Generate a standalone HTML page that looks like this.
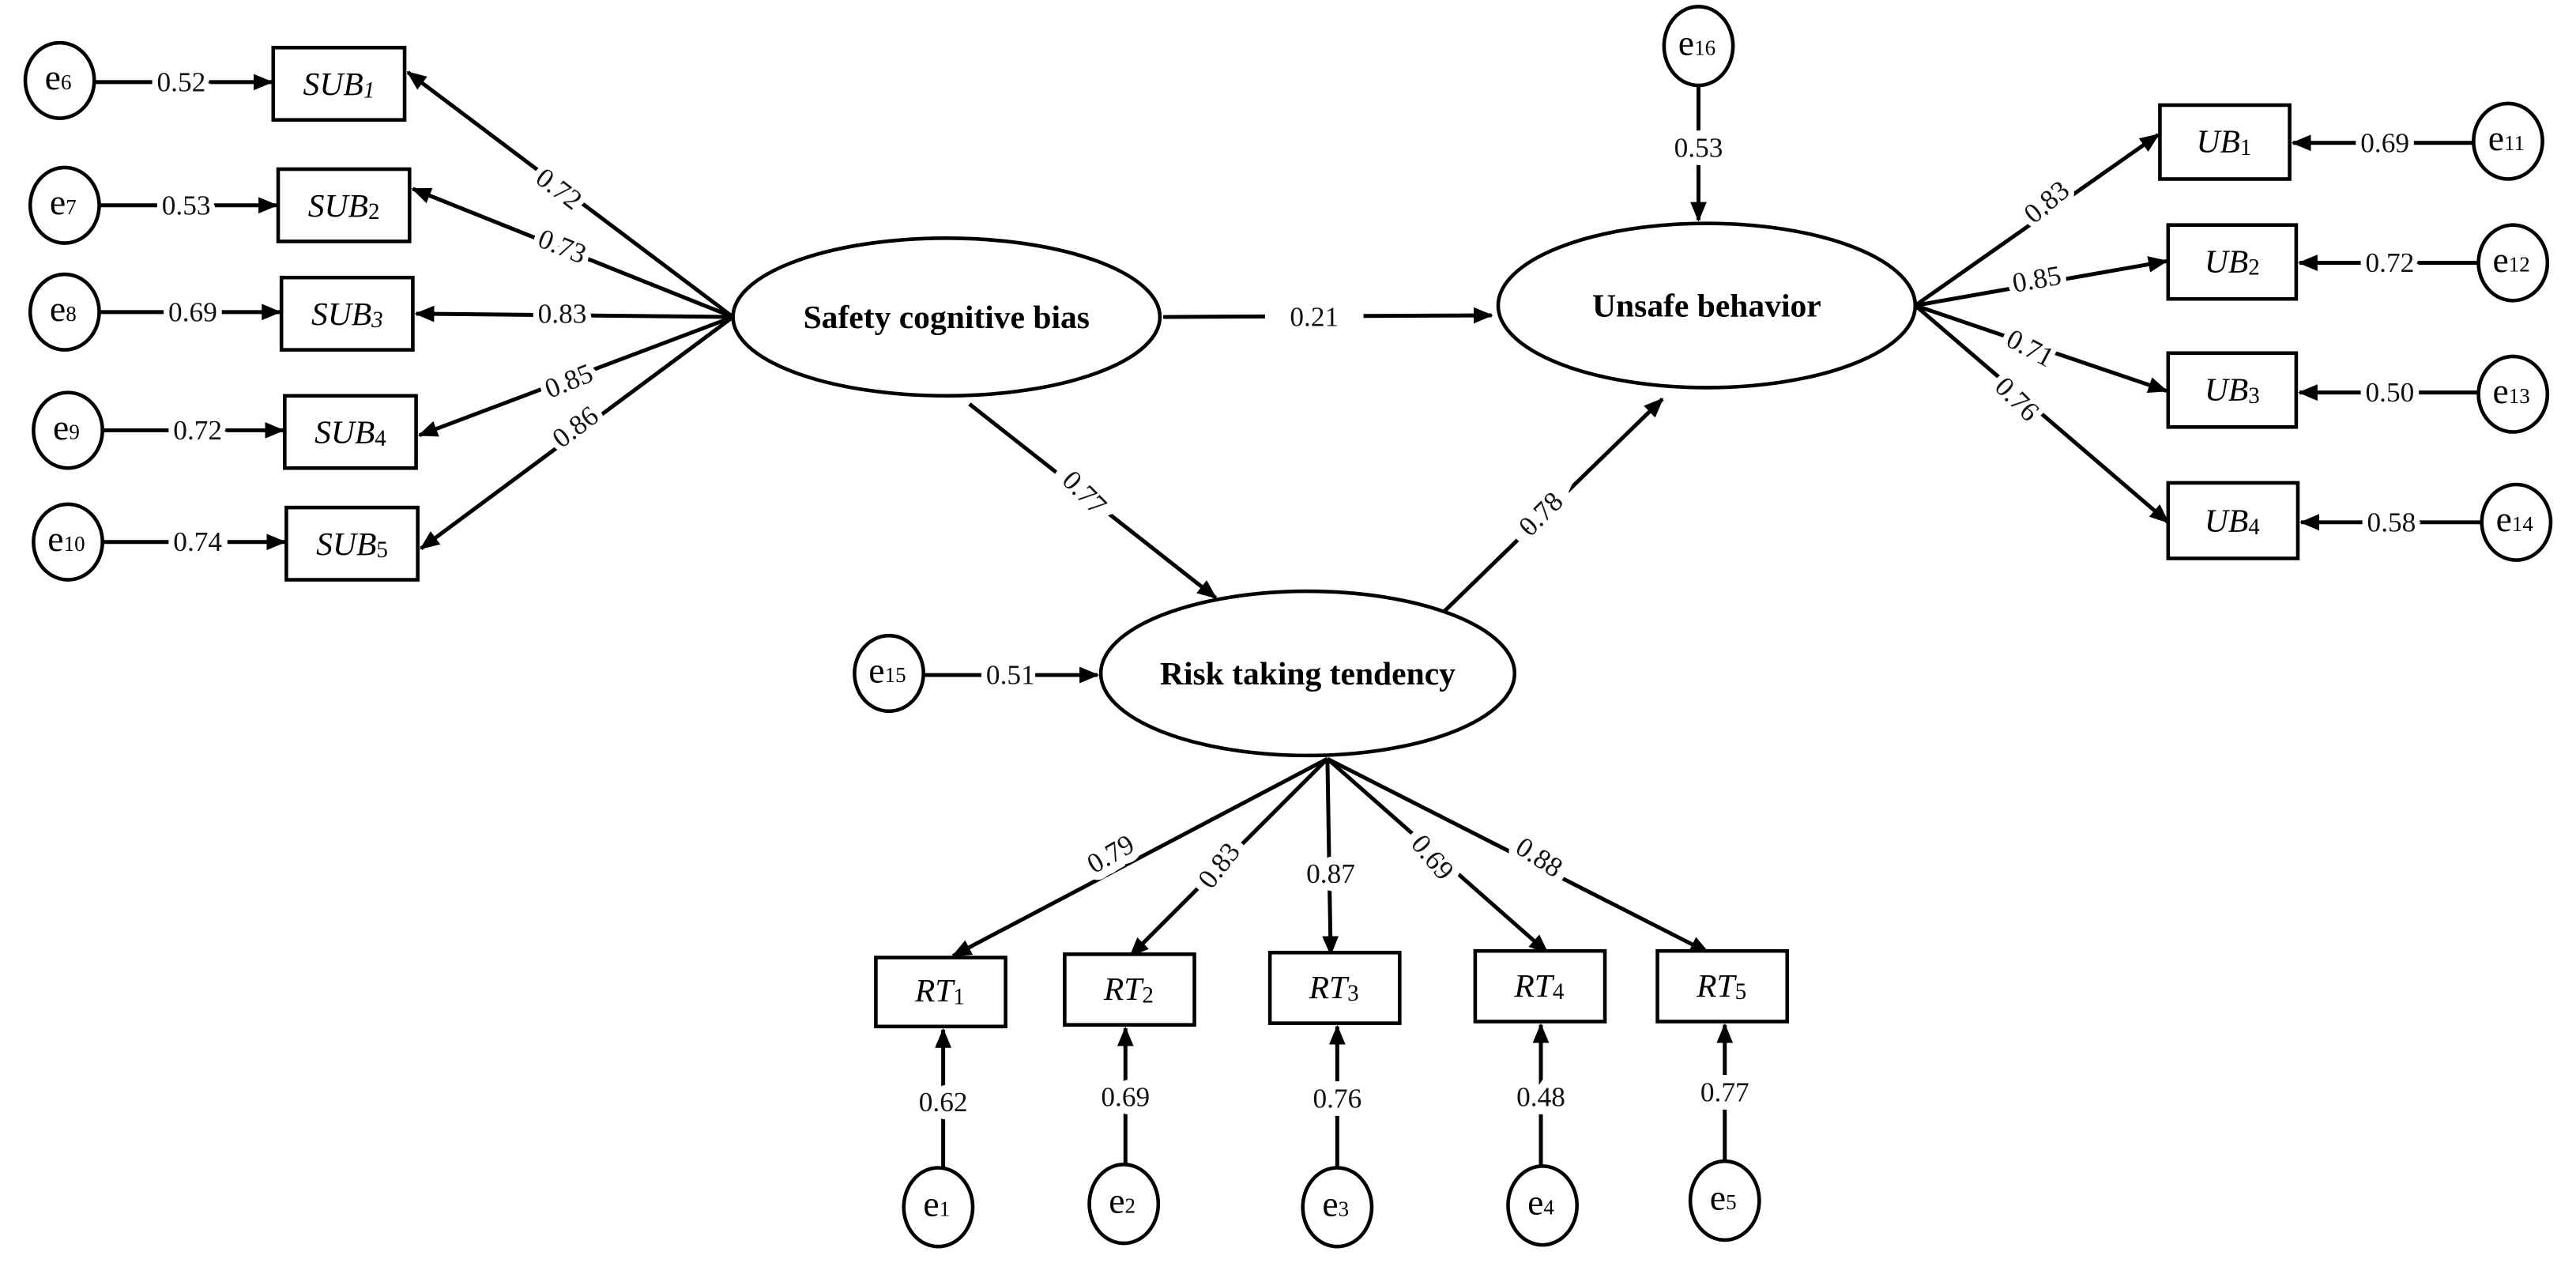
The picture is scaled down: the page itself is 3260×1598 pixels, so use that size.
<!DOCTYPE html>
<html><head><meta charset="utf-8"><style>html,body{margin:0;padding:0;background:#fff}svg{display:block}</style></head>
<body>
<svg width="3260" height="1598" viewBox="0 0 1568 769" xmlns="http://www.w3.org/2000/svg" font-family="'Liberation Serif', serif">
<defs>
<marker id="a" markerWidth="12" markerHeight="10" refX="11" refY="5" orient="auto" markerUnits="userSpaceOnUse" viewBox="0 0 12 10">
<path d="M0,0 L12,5 L0,10 Z" fill="#000"/></marker>
<style>
.l{stroke:#000;stroke-width:2.4;fill:none}
.s{stroke:#000;stroke-width:2.2;fill:#fff}
.t{font-size:17px;fill:#111;text-anchor:middle;dominant-baseline:central;paint-order:stroke;stroke:#fff;stroke-width:7px}
.bx{font-size:20px;font-style:italic;text-anchor:middle;dominant-baseline:central}
.e{font-size:22px;text-anchor:middle;dominant-baseline:central}
.bd{font-size:20px;font-weight:bold;text-anchor:middle;dominant-baseline:central}
</style>
</defs>
<rect width="1568" height="769" fill="#fff"/>

<g>
<line class="l" x1="58" y1="50" x2="165" y2="50" marker-end="url(#a)"/><text class="t" x="110" y="50">0.52</text>
<line class="l" x1="61" y1="125" x2="168" y2="125" marker-end="url(#a)"/><text class="t" x="113" y="125">0.53</text>
<line class="l" x1="61" y1="190" x2="170" y2="190" marker-end="url(#a)"/><text class="t" x="117" y="190">0.69</text>
<line class="l" x1="63" y1="262" x2="172" y2="262" marker-end="url(#a)"/><text class="t" x="120" y="262">0.72</text>
<line class="l" x1="63" y1="330" x2="173" y2="330" marker-end="url(#a)"/><text class="t" x="120" y="330">0.74</text>
</g>
<ellipse class="s" cx="36" cy="49" rx="21" ry="23"/><text class="e" x="35" y="47">e<tspan font-size="13" dy="3">6</tspan></text>
<ellipse class="s" cx="39" cy="125" rx="21" ry="23"/><text class="e" x="38" y="123">e<tspan font-size="13" dy="3">7</tspan></text>
<ellipse class="s" cx="39" cy="190" rx="21" ry="23"/><text class="e" x="38" y="188">e<tspan font-size="13" dy="3">8</tspan></text>
<ellipse class="s" cx="41" cy="262" rx="21" ry="23"/><text class="e" x="40" y="260">e<tspan font-size="13" dy="3">9</tspan></text>
<ellipse class="s" cx="41" cy="330" rx="21" ry="23"/><text class="e" x="40" y="328">e<tspan font-size="13" dy="3">10</tspan></text>

<rect class="s" x="166" y="29" width="80" height="44"/><text class="bx" x="206" y="51">SUB<tspan font-size="14" dy="4">1</tspan></text>
<rect class="s" x="169" y="103" width="80" height="44"/><text class="bx" x="209" y="125">SUB<tspan font-size="14" dy="4" font-style="normal">2</tspan></text>
<rect class="s" x="171" y="169" width="80" height="44"/><text class="bx" x="211" y="191">SUB<tspan font-size="14" dy="4">3</tspan></text>
<rect class="s" x="173" y="241" width="80" height="44"/><text class="bx" x="213" y="263">SUB<tspan font-size="14" dy="4" font-style="normal">4</tspan></text>
<rect class="s" x="174" y="309" width="80" height="44"/><text class="bx" x="214" y="331">SUB<tspan font-size="14" dy="4" font-style="normal">5</tspan></text>

<line class="l" x1="446" y1="193" x2="248" y2="44" marker-end="url(#a)"/><text class="t" x="340" y="115" transform="rotate(37 340 115)">0.72</text>
<line class="l" x1="446" y1="193" x2="251" y2="115" marker-end="url(#a)"/><text class="t" x="342" y="150" transform="rotate(22 342 150)">0.73</text>
<line class="l" x1="446" y1="193" x2="253" y2="191" marker-end="url(#a)"/><text class="t" x="342" y="191">0.83</text>
<line class="l" x1="446" y1="193" x2="255" y2="265" marker-end="url(#a)"/><text class="t" x="346" y="232" transform="rotate(-22 346 232)">0.85</text>
<line class="l" x1="446" y1="193" x2="256" y2="334" marker-end="url(#a)"/><text class="t" x="350" y="260" transform="rotate(-37 350 260)">0.86</text>

<line class="l" x1="708" y1="193" x2="908" y2="192" marker-end="url(#a)"/><rect x="770" y="180" width="60" height="26" fill="#fff"/><text class="t" x="800" y="193">0.21</text>
<line class="l" x1="590" y1="246" x2="740" y2="364" marker-end="url(#a)"/><text class="t" x="660" y="300" transform="rotate(45 660 300)" style="stroke-width:14px">0.77</text>
<line class="l" x1="865" y1="386" x2="1012" y2="243" marker-end="url(#a)"/><text class="t" x="938" y="313" transform="rotate(-45 938 313)" style="stroke-width:14px">0.78</text>

<ellipse class="s" cx="576" cy="193" rx="130" ry="48"/><text class="bd" x="576" y="193">Safety cognitive bias</text>
<ellipse class="s" cx="1039" cy="186" rx="127" ry="50"/><text class="bd" x="1039" y="186">Unsafe behavior</text>
<ellipse class="s" cx="796" cy="410" rx="126" ry="50"/><text class="bd" x="796" y="410">Risk taking tendency</text>

<line class="l" x1="1034" y1="52" x2="1034" y2="134" marker-end="url(#a)"/><text class="t" x="1034" y="90" style="stroke-width:10px">0.53</text>
<ellipse class="s" cx="1034" cy="28" rx="21" ry="24"/><text class="e" x="1033" y="26">e<tspan font-size="13" dy="3">16</tspan></text>

<line class="l" x1="562" y1="411" x2="668" y2="411" marker-end="url(#a)"/><text class="t" x="615" y="411">0.51</text>
<ellipse class="s" cx="541" cy="410" rx="21" ry="23"/><text class="e" x="540" y="408">e<tspan font-size="13" dy="3">15</tspan></text>

<line class="l" x1="1166" y1="186" x2="1314" y2="82" marker-end="url(#a)"/><text class="t" x="1246" y="123" transform="rotate(-40 1246 123)">0.83</text>
<line class="l" x1="1166" y1="186" x2="1319" y2="159" marker-end="url(#a)"/><text class="t" x="1240" y="170" transform="rotate(-10 1240 170)">0.85</text>
<line class="l" x1="1166" y1="186" x2="1319" y2="238" marker-end="url(#a)"/><text class="t" x="1236" y="212" transform="rotate(28 1236 212)">0.71</text>
<line class="l" x1="1166" y1="186" x2="1320" y2="318" marker-end="url(#a)"/><text class="t" x="1228" y="243" transform="rotate(45 1228 243)">0.76</text>

<rect class="s" x="1315" y="64" width="79" height="45"/><text class="bx" x="1354" y="86">UB<tspan font-size="14" dy="4" font-style="normal">1</tspan></text>
<rect class="s" x="1320" y="137" width="78" height="45"/><text class="bx" x="1359" y="159">UB<tspan font-size="14" dy="4" font-style="normal">2</tspan></text>
<rect class="s" x="1320" y="215" width="78" height="45"/><text class="bx" x="1359" y="237">UB<tspan font-size="14" dy="4" font-style="normal">3</tspan></text>
<rect class="s" x="1320" y="294" width="79" height="46"/><text class="bx" x="1359" y="317">UB<tspan font-size="14" dy="4" font-style="normal">4</tspan></text>

<line class="l" x1="1506" y1="87" x2="1396" y2="87" marker-end="url(#a)"/><text class="t" x="1452" y="87">0.69</text>
<line class="l" x1="1509" y1="160" x2="1400" y2="160" marker-end="url(#a)"/><text class="t" x="1455" y="160">0.72</text>
<line class="l" x1="1509" y1="239" x2="1400" y2="239" marker-end="url(#a)"/><text class="t" x="1455" y="239">0.50</text>
<line class="l" x1="1511" y1="318" x2="1401" y2="318" marker-end="url(#a)"/><text class="t" x="1456" y="318">0.58</text>
<ellipse class="s" cx="1527" cy="86" rx="21" ry="23"/><text class="e" x="1526" y="84">e<tspan font-size="13" dy="3">11</tspan></text>
<ellipse class="s" cx="1530" cy="160" rx="21" ry="23"/><text class="e" x="1529" y="158">e<tspan font-size="13" dy="3">12</tspan></text>
<ellipse class="s" cx="1530" cy="240" rx="21" ry="23"/><text class="e" x="1529" y="238">e<tspan font-size="13" dy="3">13</tspan></text>
<ellipse class="s" cx="1532" cy="318" rx="21" ry="23"/><text class="e" x="1531" y="316">e<tspan font-size="13" dy="3">14</tspan></text>

<line class="l" x1="808" y1="462" x2="580" y2="582" marker-end="url(#a)"/><text class="t" x="676" y="520" transform="rotate(-30 676 520)" style="stroke-width:10px">0.79</text>
<line class="l" x1="808" y1="462" x2="688" y2="582" marker-end="url(#a)"/><text class="t" x="742" y="527" transform="rotate(-52 742 527)" style="stroke-width:10px">0.83</text>
<line class="l" x1="808" y1="462" x2="810" y2="581" marker-end="url(#a)"/><text class="t" x="810" y="532" style="stroke-width:10px">0.87</text>
<line class="l" x1="808" y1="462" x2="942" y2="580" marker-end="url(#a)"/><text class="t" x="872" y="522" transform="rotate(50 872 522)" style="stroke-width:10px">0.69</text>
<line class="l" x1="808" y1="462" x2="1040" y2="580" marker-end="url(#a)"/><text class="t" x="937" y="522" transform="rotate(33 937 522)" style="stroke-width:10px">0.88</text>

<rect class="s" x="533" y="583" width="79" height="42"/><text class="bx" x="572" y="603">RT<tspan font-size="14" dy="4" font-style="normal">1</tspan></text>
<rect class="s" x="648" y="581" width="79" height="43"/><text class="bx" x="687" y="602">RT<tspan font-size="14" dy="4" font-style="normal">2</tspan></text>
<rect class="s" x="773" y="580" width="79" height="43"/><text class="bx" x="812" y="601">RT<tspan font-size="14" dy="4" font-style="normal">3</tspan></text>
<rect class="s" x="898" y="579" width="79" height="43"/><text class="bx" x="937" y="600">RT<tspan font-size="14" dy="4" font-style="normal">4</tspan></text>
<rect class="s" x="1009" y="579" width="79" height="43"/><text class="bx" x="1048" y="600">RT<tspan font-size="14" dy="4" font-style="normal">5</tspan></text>

<line class="l" x1="574" y1="711" x2="574" y2="627" marker-end="url(#a)"/><text class="t" x="574" y="671" style="stroke-width:10px">0.62</text>
<line class="l" x1="685" y1="711" x2="685" y2="626" marker-end="url(#a)"/><text class="t" x="685" y="668" style="stroke-width:10px">0.69</text>
<line class="l" x1="814" y1="711" x2="814" y2="625" marker-end="url(#a)"/><text class="t" x="814" y="669" style="stroke-width:10px">0.76</text>
<line class="l" x1="938" y1="711" x2="938" y2="624" marker-end="url(#a)"/><text class="t" x="938" y="668" style="stroke-width:10px">0.48</text>
<line class="l" x1="1050" y1="708" x2="1050" y2="624" marker-end="url(#a)"/><text class="t" x="1050" y="665" style="stroke-width:10px">0.77</text>

<ellipse class="s" cx="571" cy="735" rx="21" ry="24"/><text class="e" x="570" y="733">e<tspan font-size="13" dy="3">1</tspan></text>
<ellipse class="s" cx="684" cy="733" rx="21" ry="24"/><text class="e" x="683" y="731">e<tspan font-size="13" dy="3">2</tspan></text>
<ellipse class="s" cx="814" cy="735" rx="21" ry="24"/><text class="e" x="813" y="733">e<tspan font-size="13" dy="3">3</tspan></text>
<ellipse class="s" cx="939" cy="734" rx="21" ry="24"/><text class="e" x="938" y="732">e<tspan font-size="13" dy="3">4</tspan></text>
<ellipse class="s" cx="1050" cy="731" rx="21" ry="24"/><text class="e" x="1049" y="729">e<tspan font-size="13" dy="3">5</tspan></text>
</svg>
</body></html>
